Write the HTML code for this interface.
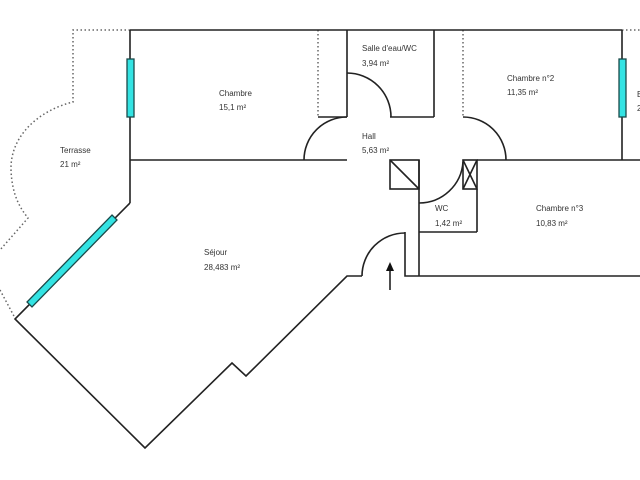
<!DOCTYPE html>
<html><head><meta charset="utf-8"><style>
html,body{margin:0;padding:0;background:#fff;}
svg{display:block;}
text{font-family:"Liberation Sans",sans-serif;font-size:8px;fill:#333;}
</style></head><body>
<svg width="640" height="480" viewBox="0 0 640 480" xmlns="http://www.w3.org/2000/svg">
<g fill="none" stroke="#666" stroke-width="1.5" stroke-dasharray="1.5,2.5">
<path d="M130,30 L73,30 L73,102 C40,110 10,135 11,170 C12,195 20,208 28,218 L0,250"/>
<path d="M0,290 L15,318"/>
<line x1="318" y1="30" x2="318" y2="117"/>
<line x1="463" y1="30" x2="463" y2="117"/>
<line x1="622" y1="30" x2="640" y2="30"/>
</g>
<g fill="none" stroke="#222" stroke-width="1.6">
<line x1="130" y1="30" x2="622" y2="30"/>
<line x1="130" y1="30" x2="130" y2="203"/>
<polyline points="130,203 15,319 145,448 232,363 246,376 347,276 362,276"/>
<path d="M362,276 A43,43 0 0 1 405,233"/>
<polyline points="405,232 405,276 640,276"/>
<line x1="130" y1="160" x2="347" y2="160"/>
<path d="M304,160 A43,43 0 0 1 347,117"/>
<line x1="347" y1="30" x2="347" y2="117"/>
<line x1="318" y1="117" x2="347" y2="117"/>
<path d="M347,73 A44,44 0 0 1 391,117"/>
<line x1="390" y1="117" x2="434" y2="117"/>
<line x1="434" y1="30" x2="434" y2="117"/>
<path d="M463,117 A43,43 0 0 1 506,160"/>
<line x1="622" y1="30" x2="622" y2="160"/>
<line x1="477" y1="160" x2="640" y2="160"/>
<rect x="390" y="160" width="29" height="29"/>
<line x1="390" y1="160" x2="419" y2="189"/>
<rect x="463" y="160" width="14" height="29"/>
<line x1="463" y1="160" x2="477" y2="189"/>
<line x1="477" y1="160" x2="463" y2="189"/>
<line x1="419" y1="160" x2="419" y2="276"/>
<path d="M419,203 A44,44 0 0 0 463,162"/>
<line x1="477" y1="189" x2="477" y2="232"/>
<line x1="419" y1="232" x2="477" y2="232"/>
<line x1="390" y1="290" x2="390" y2="270"/>
</g>
<polygon points="390,262 386,271 394,271" fill="#111"/>
<g fill="#33e3e3" stroke="#1a4a4a" stroke-width="1.3">
<rect x="127" y="59" width="7" height="58"/>
<rect x="619" y="59" width="7" height="58"/>
<polygon points="112,215 117,220 32,307 27,302"/>
</g>
<text x="219" y="96">Chambre</text><text x="219" y="110">15,1  m²</text>
<text x="60" y="153">Terrasse</text><text x="60" y="167">21  m²</text>
<text x="204" y="255">Séjour</text><text x="204" y="270">28,483  m²</text>
<text x="362" y="51">Salle d'eau/WC</text><text x="362" y="66">3,94  m²</text>
<text x="362" y="139">Hall</text><text x="362" y="153">5,63  m²</text>
<text x="507" y="81">Chambre n°2</text><text x="507" y="95">11,35  m²</text>
<text x="435" y="211">WC</text><text x="435" y="226">1,42  m²</text>
<text x="536" y="211">Chambre n°3</text><text x="536" y="226">10,83  m²</text>
<text x="637" y="97">B</text><text x="637" y="111">2</text>
</svg>
</body></html>
